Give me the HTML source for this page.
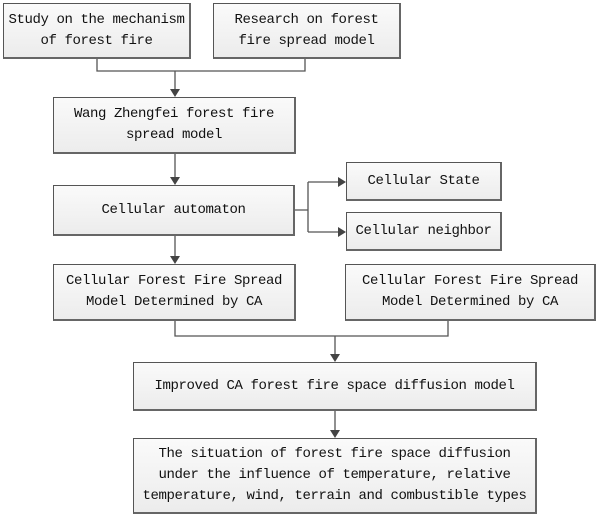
<!DOCTYPE html>
<html><head><meta charset="utf-8"><style>
html,body{margin:0;padding:0;background:#fff;width:607px;height:519px;overflow:hidden}
.b{position:absolute;box-sizing:border-box;border:1px solid #555;border-right:2px solid #666;border-bottom:2px solid #666;
background:linear-gradient(#fafafa,#ececec);display:flex;align-items:center;justify-content:center;text-align:center;
font-family:"Liberation Mono",monospace;font-size:14px;line-height:21px;color:#111;letter-spacing:-0.4px;white-space:nowrap}
svg{position:absolute;left:0;top:0}
</style></head><body>
<svg width="607" height="519">
<g stroke="#555" stroke-width="1.3" fill="none">
<path d="M97 58V71H305V58"/><path d="M175 71V90"/>
<path d="M175 153V178"/>
<path d="M294 210H308M308 182V232M308 182H339M308 232H339"/>
<path d="M175 235V257"/>
<path d="M175 320V336H448V320M335 336V355"/>
<path d="M335 410V431"/>
</g>
<g fill="#444">
<path d="M170 89H180L175 97Z"/><path d="M170 177H180L175 185Z"/>
<path d="M338 177V187L346 182Z"/><path d="M338 227V237L346 232Z"/>
<path d="M170 256H180L175 264Z"/><path d="M330 354H340L335 362Z"/>
<path d="M330 430H340L335 438Z"/>
</g></svg>
<div class="b" style="left:3px;top:3px;width:188px;height:56px">Study on the mechanism<br>of forest fire</div>
<div class="b" style="left:213px;top:3px;width:188px;height:56px">Research on forest<br>fire spread model</div>
<div class="b" style="left:53px;top:97px;width:243px;height:57px">Wang Zhengfei forest fire<br>spread model</div>
<div class="b" style="left:53px;top:185px;width:242px;height:51px">Cellular automaton</div>
<div class="b" style="left:346px;top:162px;width:156px;height:39px">Cellular State</div>
<div class="b" style="left:346px;top:212px;width:156px;height:39px">Cellular neighbor</div>
<div class="b" style="left:53px;top:264px;width:243px;height:57px">Cellular Forest Fire Spread<br>Model Determined by CA</div>
<div class="b" style="left:345px;top:264px;width:251px;height:57px">Cellular Forest Fire Spread<br>Model Determined by CA</div>
<div class="b" style="left:133px;top:362px;width:404px;height:49px">Improved CA forest fire space diffusion model</div>
<div class="b" style="left:133px;top:438px;width:404px;height:76px">The situation of forest fire space diffusion<br>under the influence of temperature, relative<br>temperature, wind, terrain and combustible types</div>
</body></html>
